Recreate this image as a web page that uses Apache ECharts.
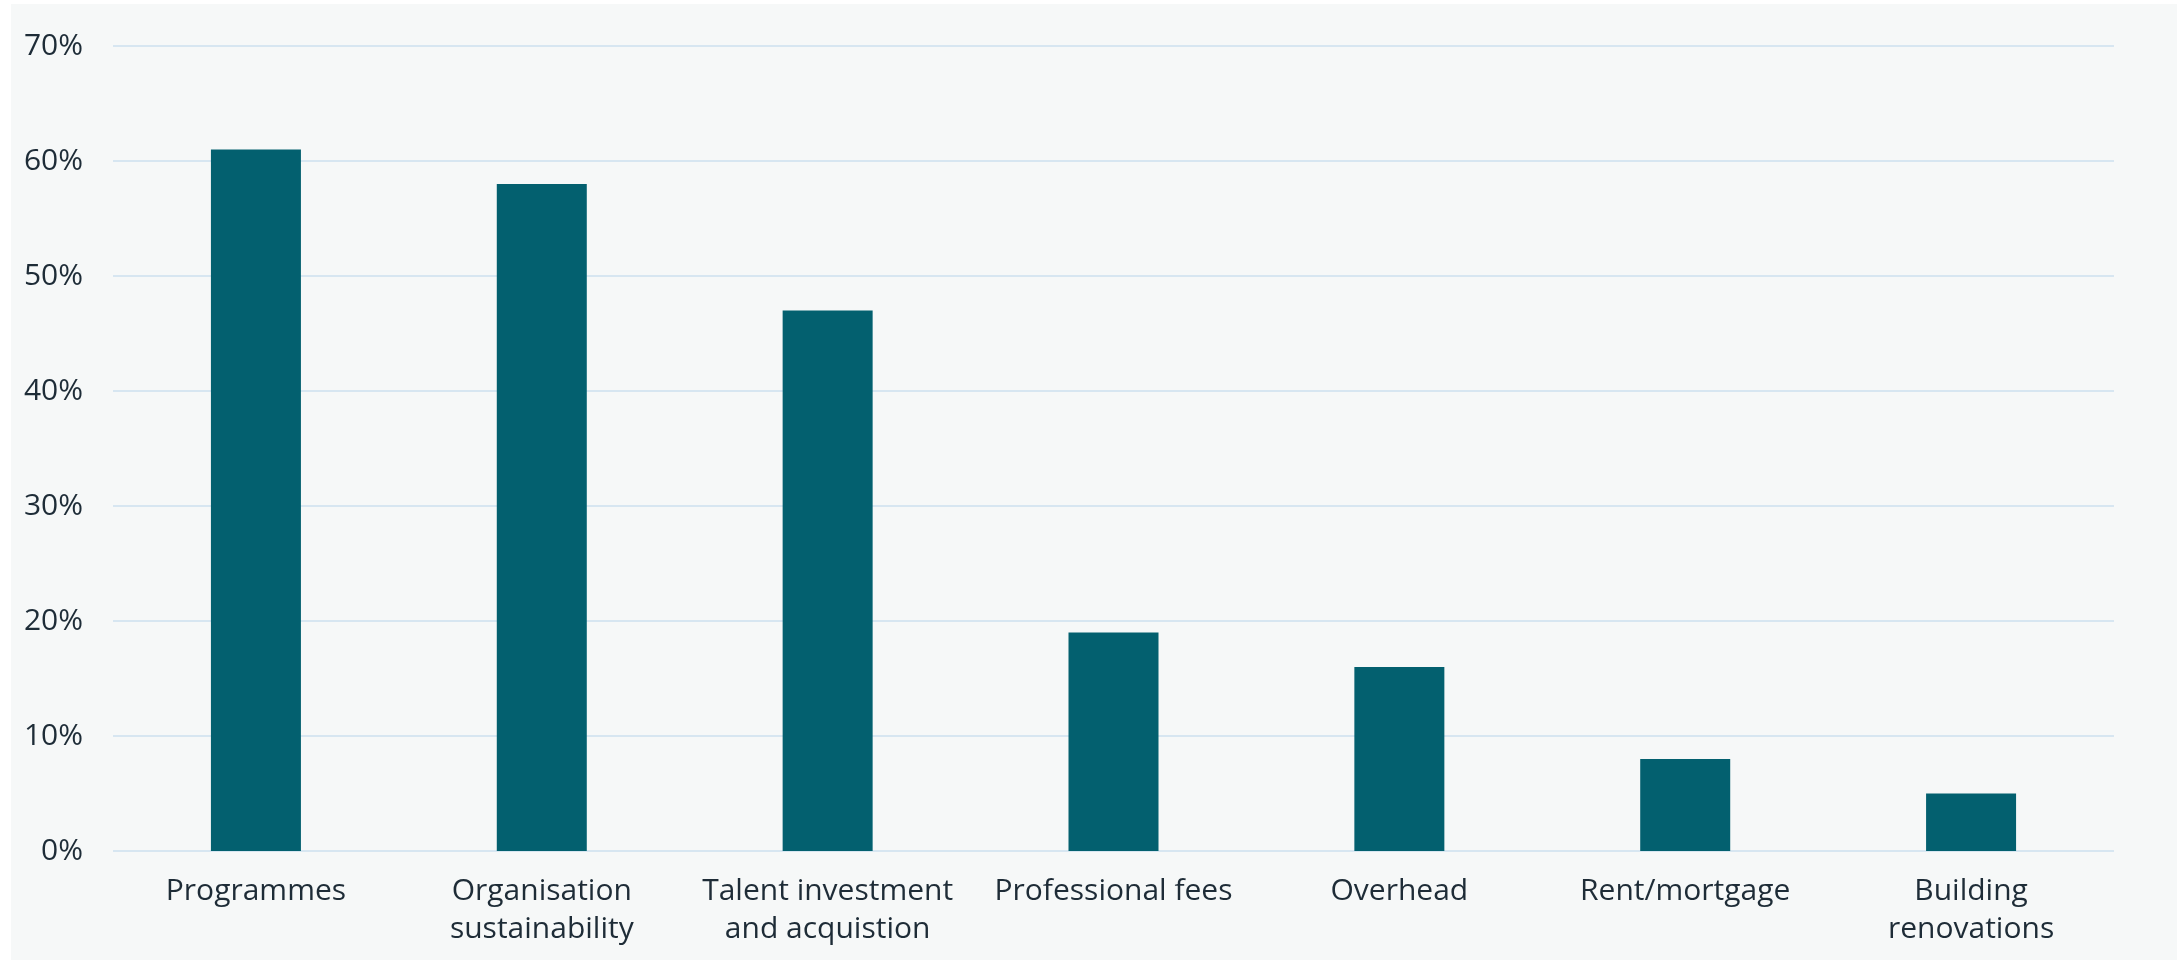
<!DOCTYPE html>
<html>
<head>
<meta charset="utf-8">
<script src="https://cdn.jsdelivr.net/npm/echarts@6/dist/echarts.min.js"></script>
<style>
  html, body { margin: 0; padding: 0; background: #ffffff; }
  #chart { width: 2177px; height: 960px; }
</style>
</head>
<body>
<div id="chart"></div>
<script>
// Share of respondents allocating funding to each spending area
const categories = [
  'Programmes',
  'Organisation\nsustainability',
  'Talent investment\nand acquistion',
  'Professional fees',
  'Overhead',
  'Rent/mortgage',
  'Building\nrenovations'
];
const shares = [61, 58, 47, 19, 16, 8, 5];
const yTicks = [0, 10, 20, 30, 40, 50, 60, 70];

const textColor = '#1e2c37';
const fontFamily = '"Open Sans", "Noto Sans", sans-serif';

const chart = echarts.init(document.getElementById('chart'), null, { renderer: 'canvas' });
chart.setOption({
  backgroundColor: '#ffffff',
  animation: false,
  graphic: [{
    type: 'rect',
    z: -10,
    silent: true,
    shape: { x: 11, y: 4, width: 2166, height: 956 },
    style: { fill: '#f6f8f8' }
  }],
  grid: { left: 113, right: 63, top: 46, bottom: 109, containLabel: false },
  xAxis: {
    type: 'category',
    data: categories,
    axisLine: { show: false },
    axisTick: { show: false },
    axisLabel: {
      color: textColor,
      fontFamily: fontFamily,
      fontSize: 30,
      lineHeight: 38,
      margin: 21,
      interval: 0
    }
  },
  yAxis: {
    type: 'value',
    min: yTicks[0],
    max: yTicks[yTicks.length - 1],
    interval: 10,
    axisLine: { show: false },
    axisTick: { show: false },
    splitLine: { lineStyle: { color: '#d7e6f1', width: 2 } },
    axisLabel: {
      color: textColor,
      fontFamily: fontFamily,
      fontSize: 30,
      margin: 30,
      formatter: '{value}%'
    }
  },
  series: [{
    type: 'bar',
    data: shares,
    barWidth: 90,
    itemStyle: { color: '#03606f' }
  }]
});
</script>
</body>
</html>
